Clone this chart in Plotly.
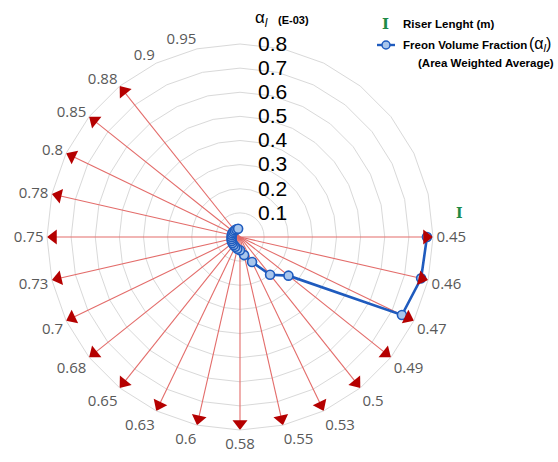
import plotly.graph_objects as go

# Riser length categories, clockwise from 3 o'clock; the last seven slots stay empty
RISER_LENGTHS = ["0.45", "0.46", "0.47", "0.49", "0.5", "0.53", "0.55", "0.58",
                 "0.6", "0.63", "0.65", "0.68", "0.7", "0.73", "0.75", "0.78",
                 "0.8", "0.85", "0.88", "0.9", "0.95"]
EMPTY_SLOTS = ["_e1", "_e2", "_e3", "_e4", "_e5", "_e6", "_e7"]

# riser directions that carry an arrow
ARROW_LENGTHS = ["0.45", "0.46", "0.47", "0.49", "0.5", "0.53", "0.55", "0.58",
                 "0.6", "0.63", "0.65", "0.68", "0.7", "0.73", "0.75", "0.78",
                 "0.8", "0.85", "0.88"]

# Freon volume fraction (area weighted average), units of 1E-03
FREON_FRACTION = [0.775, 0.77, 0.745, 0.257, 0.2, 0.115, 0.077, 0.055,
                  0.05, 0.045, 0.042, 0.04, 0.038, 0.036, 0.035, 0.035,
                  0.035, 0.035, 0.035, 0.035, 0.035]

RADIAL_TICKS = [0.1, 0.2, 0.3, 0.4, 0.5, 0.6, 0.7, 0.8]
R_MAX = 0.8

W, H = 558, 462
CX, CY, RAD = 240, 237, 193          # polar centre and radius in px
HEAD_SIZE = 13

all_cats = RISER_LENGTHS + EMPTY_SLOTS
n_slots = len(all_cats)
step = 360.0 / n_slots

RED_LINE = "#E36C6A"
RED_HEAD = "#B50000"
BLUE = "#1F5BBE"

fig = go.Figure()

# riser arrows: shafts from the centre to the outer ring
for cat in ARROW_LENGTHS:
    fig.add_trace(go.Scatterpolar(
        r=[0, R_MAX], theta=[cat, cat], mode="lines",
        line=dict(color=RED_LINE, width=1.1),
        hoverinfo="skip", showlegend=False))

# Freon volume fraction line
fig.add_trace(go.Scatterpolar(
    r=FREON_FRACTION, theta=RISER_LENGTHS, mode="lines+markers",
    line=dict(color=BLUE, width=2.6),
    marker=dict(symbol="circle", size=9, color="#A9C6EC",
                line=dict(color=BLUE, width=1.6)),
    name="Freon Volume Fraction", showlegend=False))

# arrow heads, rotated to point outward along each category direction
px_per_unit = RAD / R_MAX
head_r = R_MAX - (HEAD_SIZE / 2) / px_per_unit
head_angles = [90 + all_cats.index(c) * step for c in ARROW_LENGTHS]
fig.add_trace(go.Scatterpolar(
    r=[head_r] * len(ARROW_LENGTHS), theta=ARROW_LENGTHS, mode="markers",
    marker=dict(symbol="triangle-up", size=HEAD_SIZE, color=RED_HEAD,
                angle=head_angles, line=dict(width=0)),
    hoverinfo="skip", showlegend=False))

tick_text = RISER_LENGTHS + [""] * len(EMPTY_SLOTS)

# radial labels sit a little to the right of the vertical axis
pad = "\u00a0" * 3

fig.update_layout(
    width=W, height=H,
    margin=dict(l=0, r=0, t=0, b=0),
    paper_bgcolor="white",
    showlegend=False,
    polar=dict(
        domain=dict(x=[(CX - RAD) / W, (CX + RAD) / W],
                    y=[1 - (CY + RAD) / H, 1 - (CY - RAD) / H]),
        bgcolor="white",
        gridshape="linear",
        angularaxis=dict(
            type="category", categoryorder="array", categoryarray=all_cats,
            tickmode="array", tickvals=all_cats, ticktext=tick_text,
            direction="clockwise", rotation=0,
            showgrid=False, showline=True, linecolor="#D9D9D9", linewidth=1,
            ticks="", tickfont=dict(family="Open Sans", size=15, color="#595959")),
        radialaxis=dict(
            range=[0, R_MAX], angle=90, tickangle=90,
            tickmode="array", tickvals=RADIAL_TICKS,
            ticktext=[pad + f"{v:.1f}" for v in RADIAL_TICKS],
            showline=False, ticks="", gridcolor="#D9D9D9", gridwidth=1,
            tickfont=dict(family="Liberation Sans", size=21, color="black")),
    ),
)

def px(x, y):
    return x / W, 1 - y / H

annotations = []

def note(x, y, text, size, color="black", family="Liberation Sans", anchor="left"):
    xx, yy = px(x, y)
    annotations.append(dict(x=xx, y=yy, xref="paper", yref="paper", text=text,
                            showarrow=False, xanchor=anchor, yanchor="middle",
                            font=dict(family=family, size=size, color=color)))

# radial axis title
note(253, 19, "α<sub><i>l</i></sub>", 17)
note(276, 20, "<b>(E-03)</b>", 11)

# legend
note(385, 24, "<b>I</b>", 15, color="#1E8A46", family="DejaVu Serif", anchor="center")
note(401, 24, "<b>Riser Lenght (m)</b>", 11.5)
note(401, 45, "<b>Freon Volume Fraction</b>", 11.5)
note(527, 44, "(α<sub><i>l</i></sub>)", 16)
note(416, 63, "<b>(Area Weighted Average)</b>", 11.5)

# riser marker beside the first category
note(459, 213, "<b>I</b>", 14, color="#1E8A46", family="DejaVu Serif", anchor="center")

fig.update_layout(annotations=annotations)

# legend icon for the Freon series
lx0, ly = px(377, 45)
lx1, _ = px(395, 45)
fig.add_shape(type="line", xref="paper", yref="paper", x0=lx0, x1=lx1, y0=ly, y1=ly,
              line=dict(color=BLUE, width=2.4))
cx0, cy0 = px(382, 41)
cx1, cy1 = px(390, 49)
fig.add_shape(type="circle", xref="paper", yref="paper", x0=cx0, x1=cx1, y0=cy1, y1=cy0,
              fillcolor="#A9C6EC", line=dict(color=BLUE, width=1.5))

fig.write_html("out.html")
